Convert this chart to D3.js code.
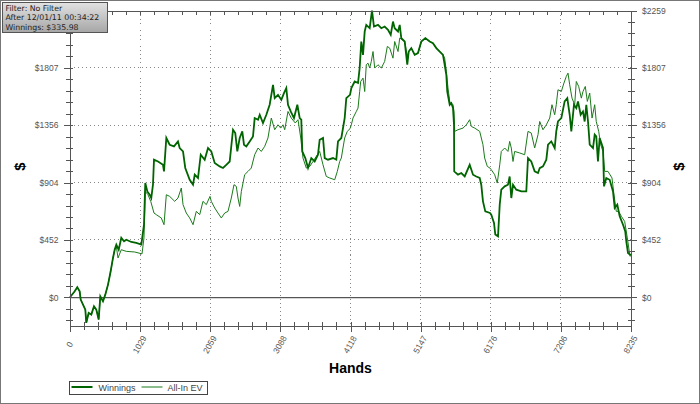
<!DOCTYPE html>
<html>
<head>
<meta charset="utf-8">
<script src="https://cdn.jsdelivr.net/npm/d3@7"></script>
<style>
  body { margin: 0; background: #fff; }
  svg { display: block; font-family: "Liberation Sans", Arial, sans-serif; }
  .axis path, .axis line { stroke: #555; shape-rendering: crispEdges; }
  .axis text { fill: #555; font-size: 8.5px; }
  .grid line { stroke: #888; stroke-dasharray: 1,3; shape-rendering: crispEdges; }
</style>
</head>
<body>
<svg id="chart"></svg>
<script>
// hands / dollars
const winnings = [[0,0],[69,47],[107,79],[142,47],[157,-18],[191,-57],[225,-97],[239,-201],[274,-123],[313,-136],[352,-71],[386,-97],[421,-175],[445,8],[484,-31],[518,21],[558,100],[597,205],[631,310],[656,375],[680,415],[715,375],[753,468],[793,441],[826,454],[900,436],[973,428],[1047,415],[1086,572],[1105,900],[1135,834],[1170,808],[1193,782],[1218,887],[1233,1084],[1292,1070],[1365,1044],[1380,992],[1414,1255],[1463,1202],[1527,1189],[1585,1228],[1610,1176],[1659,1149],[1692,1019],[1757,926],[1806,887],[1831,966],[1879,940],[1919,1123],[1977,1084],[2026,1176],[2074,1149],[2124,1058],[2197,1031],[2246,1019],[2294,1044],[2344,1070],[2393,1320],[2426,1294],[2456,1149],[2491,1255],[2529,1307],[2554,1202],[2588,1189],[2638,1228],[2686,1267],[2711,1412],[2760,1399],[2785,1438],[2833,1373],[2882,1438],[2931,1517],[2980,1674],[3005,1569],[3053,1595],[3102,1556],[3141,1609],[3175,1648],[3200,1517],[3240,1464],[3288,1412],[3337,1517],[3372,1412],[3395,1399],[3410,1149],[3454,1097],[3494,1019],[3542,1097],[3592,1070],[3640,1123],[3665,1241],[3714,1255],[3739,1097],[3787,1084],[3861,1097],[3909,1084],[3934,1228],[3983,1255],[4032,1412],[4056,1569],[4110,1595],[4130,1648],[4179,1700],[4228,1688],[4252,1806],[4276,2015],[4301,1910],[4326,2094],[4349,2146],[4399,2120],[4433,2259],[4462,2133],[4521,2146],[4570,2120],[4619,2133],[4668,2107],[4708,2068],[4741,2172],[4766,2120],[4815,2094],[4840,2146],[4863,2042],[4913,2015],[4951,1832],[4972,1936],[5010,1963],[5060,1910],[5108,1924],[5157,2015],[5216,2042],[5280,2015],[5328,2002],[5377,1963],[5427,1936],[5475,1910],[5500,1832],[5524,1753],[5538,1621],[5574,1517],[5597,1530],[5622,1491],[5637,1359],[5640,992],[5695,966],[5744,979],[5794,952],[5867,1044],[5916,966],[5964,952],[6014,940],[6037,887],[6062,756],[6096,677],[6165,664],[6184,651],[6224,586],[6243,494],[6283,480],[6308,730],[6331,848],[6381,874],[6429,887],[6454,952],[6478,782],[6503,887],[6551,848],[6625,834],[6698,834],[6723,1097],[6771,1070],[6821,992],[6870,979],[6895,1018],[6943,1031],[6992,1084],[7017,1202],[7065,1228],[7115,1176],[7138,1307],[7163,1385],[7212,1412],[7261,1543],[7300,1569],[7335,1438],[7359,1307],[7398,1517],[7432,1491],[7457,1543],[7496,1438],[7530,1464],[7555,1385],[7579,1517],[7604,1385],[7629,1202],[7677,1176],[7702,1281],[7725,1267],[7750,1070],[7775,1255],[7824,1176],[7839,874],[7872,940],[7922,926],[7971,834],[7996,704],[8034,730],[8069,638],[8118,572],[8151,519],[8166,441],[8191,349],[8220,336],[8235,336]]

const allInEV = [[0,0],[69,47],[107,79],[142,47],[157,-18],[191,-57],[225,-97],[239,-201],[274,-123],[313,-136],[352,-71],[386,-97],[421,-175],[445,8],[484,-31],[518,21],[558,100],[597,205],[631,310],[656,375],[680,400],[705,310],[753,375],[826,362],[950,357],[1057,342],[1086,468],[1105,834],[1145,808],[1185,756],[1233,664],[1267,651],[1340,625],[1380,572],[1414,808],[1463,795],[1537,756],[1585,782],[1634,861],[1659,730],[1707,664],[1757,625],[1806,572],[1854,677],[1904,651],[1952,756],[2001,730],[2055,795],[2074,756],[2124,704],[2172,664],[2221,625],[2271,664],[2319,677],[2368,782],[2407,887],[2441,874],[2466,782],[2491,716],[2515,834],[2564,966],[2613,992],[2661,1018],[2711,1123],[2760,1176],[2808,1149],[2858,1189],[2906,1255],[2955,1412],[3005,1320],[3053,1359],[3093,1333],[3127,1359],[3152,1320],[3200,1464],[3248,1412],[3307,1373],[3347,1399],[3387,1255],[3420,1097],[3469,1018],[3519,1031],[3567,1070],[3615,1110],[3665,1149],[3714,1044],[3762,952],[3812,940],[3886,926],[3924,992],[3959,1070],[3983,1097],[4007,1176],[4032,1255],[4070,1307],[4110,1328],[4130,1359],[4154,1412],[4203,1464],[4228,1491],[4252,1621],[4267,1700],[4301,1727],[4326,1621],[4349,1832],[4374,1845],[4399,1806],[4423,1858],[4448,1936],[4473,1806],[4521,1832],[4570,1806],[4619,1858],[4658,1976],[4693,1963],[4741,1884],[4766,2015],[4815,1936],[4840,2042],[4913,2015],[4951,1900],[4972,1936],[5010,1963],[5060,1910],[5108,1924],[5157,2015],[5216,2042],[5280,2015],[5328,2002],[5377,1963],[5427,1936],[5475,1910],[5500,1884],[5524,1779],[5549,1648],[5574,1543],[5622,1517],[5637,1464],[5647,1307],[5695,1320],[5769,1333],[5818,1359],[5867,1399],[5891,1346],[5941,1333],[6014,1307],[6062,1202],[6087,1097],[6126,1031],[6165,1018],[6184,1005],[6234,966],[6272,900],[6308,1044],[6331,1149],[6381,1176],[6429,1149],[6454,1228],[6478,1176],[6503,1070],[6527,1149],[6601,1137],[6674,1123],[6723,1307],[6771,1294],[6821,1176],[6870,1281],[6895,1385],[6943,1320],[6992,1359],[7042,1412],[7075,1517],[7115,1438],[7138,1517],[7163,1635],[7212,1621],[7251,1688],[7285,1740],[7310,1766],[7335,1674],[7369,1569],[7408,1517],[7432,1700],[7467,1661],[7506,1569],[7530,1621],[7564,1661],[7594,1543],[7629,1609],[7663,1412],[7702,1517],[7725,1385],[7761,1307],[7790,1202],[7824,1149],[7849,992],[7897,992],[7956,940],[7985,808],[8019,677],[8054,677],[8093,638],[8142,598],[8181,468],[8220,323],[8235,330]]

const xTicks = [0, 1029, 2059, 3088, 4118, 5147, 6176, 7206, 8235]
const yTicks = [0, 452, 904, 1356, 1807, 2259]
const infoLines = ['Filter: No Filter', 'After 12/01/11 00:34:22', 'Winnings: $335.98']
const seriesNames = ['Winnings', 'All-In EV']

class WinningsGraph {
    constructor(_config, _win, _ev) {
        this.config = {
            parentElement: _config.parentElement,
            containerWidth: _config.containerWidth || 700,
            containerHeight: _config.containerHeight || 404,
            margin: {top: 10.5, right: 69, bottom: 78, left: 70},
        }
        this.win = _win
        this.ev = _ev
        this.initVis()
    }

    initVis() {
        let vis = this
        vis.width = vis.config.containerWidth - vis.config.margin.left - vis.config.margin.right
        vis.height = vis.config.containerHeight - vis.config.margin.top - vis.config.margin.bottom

        vis.svg = d3.select(vis.config.parentElement)
            .attr('width', vis.config.containerWidth)
            .attr('height', vis.config.containerHeight)

        vis.svg.append('rect')
            .attr('x', 0.5).attr('y', 0.5)
            .attr('width', vis.config.containerWidth - 1)
            .attr('height', vis.config.containerHeight - 1)
            .attr('fill', '#fff').attr('stroke', '#777')

        vis.chart = vis.svg.append('g')
            .attr('transform', `translate(${vis.config.margin.left},${vis.config.margin.top})`)

        vis.xScale = d3.scaleLinear().domain([0, 8235]).range([0, vis.width])
        vis.yScale = d3.scaleLinear().domain([-226, 2259.3]).range([vis.height, 0])

        // minor ticks, 5 steps per major step
        vis.xMinor = d3.range(0, 41).map(i => i * 8235 / 40)
        vis.yMinor = d3.range(-2, 26).map(i => i * 2259.3 / 25)
    }

    updateVis() {
        let vis = this
        vis.xValue = d => d[0]
        vis.yValue = d => d[1]
        vis.line = d3.line()
            .x(d => vis.xScale(vis.xValue(d)))
            .y(d => vis.yScale(vis.yValue(d)))
        vis.renderVis()
    }

    renderVis() {
        let vis = this
        const fmt = d => '$' + d

        // grid
        const grid = vis.chart.append('g').attr('class', 'grid')
        grid.selectAll('.vg')
            .data(xTicks.slice(1, -1))
            .join('line')
                .attr('x1', d => vis.xScale(d)).attr('x2', d => vis.xScale(d))
                .attr('y1', 0).attr('y2', vis.height)
        grid.selectAll('.hg')
            .data(yTicks.slice(1, -1))
            .join('line')
                .attr('x1', 0).attr('x2', vis.width)
                .attr('y1', d => vis.yScale(d)).attr('y2', d => vis.yScale(d))

        vis.chart.append('line')
            .attr('x1', 0).attr('x2', vis.width)
            .attr('y1', vis.yScale(0) + 1).attr('y2', vis.yScale(0) + 1)
            .attr('stroke', '#ccc')
        vis.chart.append('line')
            .attr('x1', 0).attr('x2', vis.width)
            .attr('y1', vis.yScale(0)).attr('y2', vis.yScale(0))
            .attr('stroke', '#555').attr('shape-rendering', 'crispEdges')

        // lines
        vis.chart.append('path')
            .datum(vis.ev)
            .attr('fill', 'none')
            .attr('stroke', '#1b7a1b')
            .attr('stroke-width', 1)
            .attr('d', vis.line)
        vis.chart.append('path')
            .datum(vis.win)
            .attr('fill', 'none')
            .attr('stroke', '#006400')
            .attr('stroke-width', 1.8)
            .attr('d', vis.line)

        // axes
        const addAxis = (axis, transform) => vis.chart.append('g')
            .attr('class', 'axis')
            .attr('transform', transform)
            .call(axis)

        // left
        addAxis(d3.axisLeft(vis.yScale).tickValues(vis.yMinor).tickSize(4).tickSizeOuter(0).tickFormat(''), 'translate(0,0)')
        addAxis(d3.axisRight(vis.yScale).tickValues(vis.yMinor).tickSize(3).tickSizeOuter(0).tickFormat(''), 'translate(0,0)')
        addAxis(d3.axisLeft(vis.yScale).tickValues(yTicks).tickSize(6).tickPadding(5.5).tickSizeOuter(0).tickFormat(fmt), 'translate(0,0)')
        // right
        addAxis(d3.axisRight(vis.yScale).tickValues(vis.yMinor).tickSize(4).tickSizeOuter(0).tickFormat(''), `translate(${vis.width},0)`)
        addAxis(d3.axisLeft(vis.yScale).tickValues(vis.yMinor).tickSize(3).tickSizeOuter(0).tickFormat(''), `translate(${vis.width},0)`)
        addAxis(d3.axisRight(vis.yScale).tickValues(yTicks).tickSize(6).tickPadding(5).tickSizeOuter(0).tickFormat(fmt), `translate(${vis.width},0)`)
        // top
        addAxis(d3.axisTop(vis.xScale).tickValues(vis.xMinor).tickSize(-4).tickSizeOuter(0).tickFormat(''), 'translate(0,0)')
        // bottom
        addAxis(d3.axisTop(vis.xScale).tickValues(vis.xMinor).tickSize(4).tickSizeOuter(0).tickFormat(''), `translate(0,${vis.height})`)
        addAxis(d3.axisBottom(vis.xScale).tickValues(vis.xMinor).tickSize(4).tickSizeOuter(0).tickFormat(''), `translate(0,${vis.height})`)
        const xAxisG = addAxis(d3.axisBottom(vis.xScale).tickValues(xTicks).tickSize(6).tickSizeOuter(0).tickFormat(d => d), `translate(0,${vis.height})`)
        xAxisG.selectAll('text')
            .attr('y', 0)
            .attr('dy', '0.35em')
            .attr('text-anchor', 'middle')
            .attr('transform', 'translate(-1,18.5) rotate(-60)')

        // titles
        vis.chart.append('text')
            .attr('x', vis.width / 2).attr('y', vis.height + 47)
            .attr('text-anchor', 'middle')
            .attr('font-size', 14).attr('font-weight', 'bold')
            .text('Hands')
        vis.svg.append('text')
            .attr('transform', `translate(25,${vis.config.margin.top + vis.yScale(904) - 16}) rotate(-90)`)
            .attr('text-anchor', 'middle')
            .attr('font-size', 15).attr('font-weight', 'bold')
            .text('$')
        vis.svg.append('text')
            .attr('transform', `translate(684,${vis.config.margin.top + vis.yScale(904) - 16}) rotate(-90)`)
            .attr('text-anchor', 'middle')
            .attr('font-size', 15).attr('font-weight', 'bold')
            .text('$')

        // legend
        const legend = vis.svg.append('g').attr('transform', 'translate(69.5,381.5)')
        legend.append('rect')
            .attr('width', 138).attr('height', 13)
            .attr('fill', '#fff').attr('stroke', '#444')
        legend.append('line').attr('x1', 2).attr('x2', 23).attr('y1', 5.5).attr('y2', 5.5)
            .attr('stroke', '#006400').attr('stroke-width', 2)
        legend.append('text').attr('x', 29).attr('y', 9.5).attr('font-size', 9).attr('fill', '#444').text(seriesNames[0])
        legend.append('line').attr('x1', 72).attr('x2', 93).attr('y1', 5.5).attr('y2', 5.5)
            .attr('stroke', '#1b7a1b').attr('stroke-width', 1)
        legend.append('text').attr('x', 98).attr('y', 9.5).attr('font-size', 9).attr('fill', '#444').text(seriesNames[1])

        // info box, one text block with three lines
        const defs = vis.svg.append('defs')
        const grad = defs.append('linearGradient').attr('id', 'infoGrad')
            .attr('x1', 0).attr('y1', 0).attr('x2', 0).attr('y2', 1)
        grad.append('stop').attr('offset', '0%').attr('stop-color', '#e2e2e2')
        grad.append('stop').attr('offset', '100%').attr('stop-color', '#a6a6a6')
        const info = vis.svg.append('g').attr('transform', 'translate(2.5,2.5)')
        info.append('rect')
            .attr('width', 105).attr('height', 30)
            .attr('fill', 'url(#infoGrad)').attr('stroke', '#555')
        info.append('text')
            .attr('y', 8)
            .attr('font-family', '"DejaVu Sans", sans-serif')
            .attr('font-size', 7.8)
            .attr('fill', '#222')
            .selectAll('tspan')
            .data(infoLines)
            .join('tspan')
                .attr('x', 3)
                .attr('dy', (d, i) => i === 0 ? 0 : 9.6)
                .text(d => d)
    }
}

const graph = new WinningsGraph({parentElement: '#chart'}, winnings, allInEV)
graph.updateVis()
</script>
</body>
</html>
